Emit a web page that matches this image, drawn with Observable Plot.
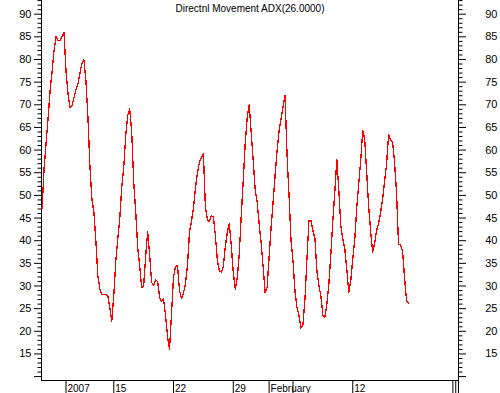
<!DOCTYPE html>
<html><head><meta charset="utf-8">
<script src="https://cdn.jsdelivr.net/npm/d3@7"></script>
<script src="https://cdn.jsdelivr.net/npm/@observablehq/plot@0.6"></script>
<style>body{margin:0;background:#fff} svg{display:block}</style>
</head><body><div id="chart"></div>
<script>
const title = "Directnl Movement ADX(26.0000)";
const startDay = 4;          // trading-day index of first value
const stepDay = 1 / 6;       // spacing between values (trading days)
const adx = [
  47, 56, 61.5, 67, 73, 77.3, 82, 85, 84.2, 84.2, 85, 86, 77.5, 72.5, 69.4, 69.8, 71.6, 73.3, 74.6, 77,
  79.2, 79.9, 75.4, 67.3, 56.6, 49.2, 46.3, 40, 32.3, 29.4, 28.1, 28.1, 28.1, 27.9, 25.3, 22.2, 27.9, 35.5, 40.4, 44.8,
  51.8, 56.2, 63.2, 67.6, 69.1, 64, 53, 46.5, 38.6, 34.5, 29.7, 30, 36.5, 42, 37, 30.8, 30.1, 31.4, 31, 27.5,
  26.6, 27.1, 23.5, 18.8, 16.1, 24, 32, 34.3, 34.5, 29, 27.2, 28.4, 30.5, 34.5, 41.8, 44.3, 47.2, 51.6, 55, 57.3,
  58.4, 59.2, 47.5, 44.6, 44.2, 45.5, 45.3, 41.2, 35.7, 33.3, 33.1, 34.3, 38.7, 41.8, 43.8, 38.9, 33, 29.3, 31.8, 37,
  45.5, 53.3, 61.5, 67.2, 70.1, 63.9, 57.7, 51.4, 48.5, 43.8, 39.4, 34.2, 28.5, 29.7, 36.4, 43, 48.5, 54.4, 59.9, 64.3,
  66.9, 69.5, 72.1, 59, 50, 40, 35.5, 28.8, 25.2, 23.5, 20.7, 21.5, 27.2, 36, 44.4, 44.5, 42.2, 40.5, 33.3, 30.1,
  27.8, 23.6, 23.1, 26, 30.5, 37, 44.4, 50.8, 58, 51.1, 43.4, 40.4, 38.2, 33.8, 28.6, 31.2, 36, 40.3, 47.2, 52.6,
  57.7, 64.3, 62.5, 55, 47.5, 42, 37.5, 39.5, 42.3, 43.8, 46.3, 49.3, 53.1, 57, 63.5, 62.3, 61.8, 57.2, 50.5, 39.1,
  39.1, 37.8, 31.9, 26.8, 26.1
];
const xTickDays = [6, 10, 15, 20, 23, 25, 30];
const xTickLabels = ["2007", "15", "22", "29", "February", "", "12"];
const xEndTicks = [38.38, 38.62];
const xDomain = [3.95, 38.85];
const yDomain = [9.14, 93.02];
const yMajor = d3.range(10, 91, 5);
const yMinor = d3.range(10, 94).filter(v => v % 5 !== 0);

const data = adx.map((v, i) => ({d: startDay + i * stepDay, v}));
const labelMap = new Map(xTickDays.map((d, i) => [d, xTickLabels[i]]));
const yFmt = d => d >= 15 ? String(d) : "";

const chart = Plot.plot({
  width: 500, height: 393,
  marginLeft: 41, marginRight: 42, marginTop: 0, marginBottom: 13,
  style: {fontFamily: "'Liberation Sans', Arial, sans-serif", fontSize: "11px", background: "#fff", color: "#000"},
  x: {domain: xDomain, axis: null},
  y: {domain: yDomain, axis: null},
  marks: [
    Plot.axisY({anchor: "left", ticks: yMinor, tickSize: 3.5, tickFormat: () => "", label: null}),
    Plot.axisY({anchor: "left", ticks: yMajor, tickSize: 7, tickPadding: 3, tickFormat: yFmt, label: null, fontSize: 11}),
    Plot.axisY({anchor: "right", ticks: yMinor, tickSize: 3.5, tickFormat: () => "", label: null}),
    Plot.axisY({anchor: "right", ticks: yMajor, tickSize: 7, tickPadding: 32, textAnchor: "end", tickFormat: yFmt, label: null, fontSize: 11}),
    Plot.axisX({anchor: "bottom", ticks: [...xTickDays, ...xEndTicks, xDomain[1]], tickSize: 13, tickFormat: () => "", label: null}),
    Plot.axisX({anchor: "bottom", ticks: xTickDays, tickSize: 0, tickPadding: 4, tickFormat: d => labelMap.get(d), textAnchor: "start", dx: 1.5, lineAnchor: "top", fontSize: 10, label: null}),
    Plot.ruleX([xDomain[0], xDomain[1]], {stroke: "#000"}),
    Plot.ruleY([yDomain[0]], {stroke: "#000"}),
    Plot.line(data, {x: "d", y: "v", stroke: "#ff0000", strokeWidth: 1.3, shapeRendering: "crispEdges"}),
    Plot.text([title], {frameAnchor: "top", dy: 4, lineAnchor: "top", fontSize: 10, fill: "#000"})
  ]
});
document.getElementById("chart").append(chart);
</script>
</body></html>
